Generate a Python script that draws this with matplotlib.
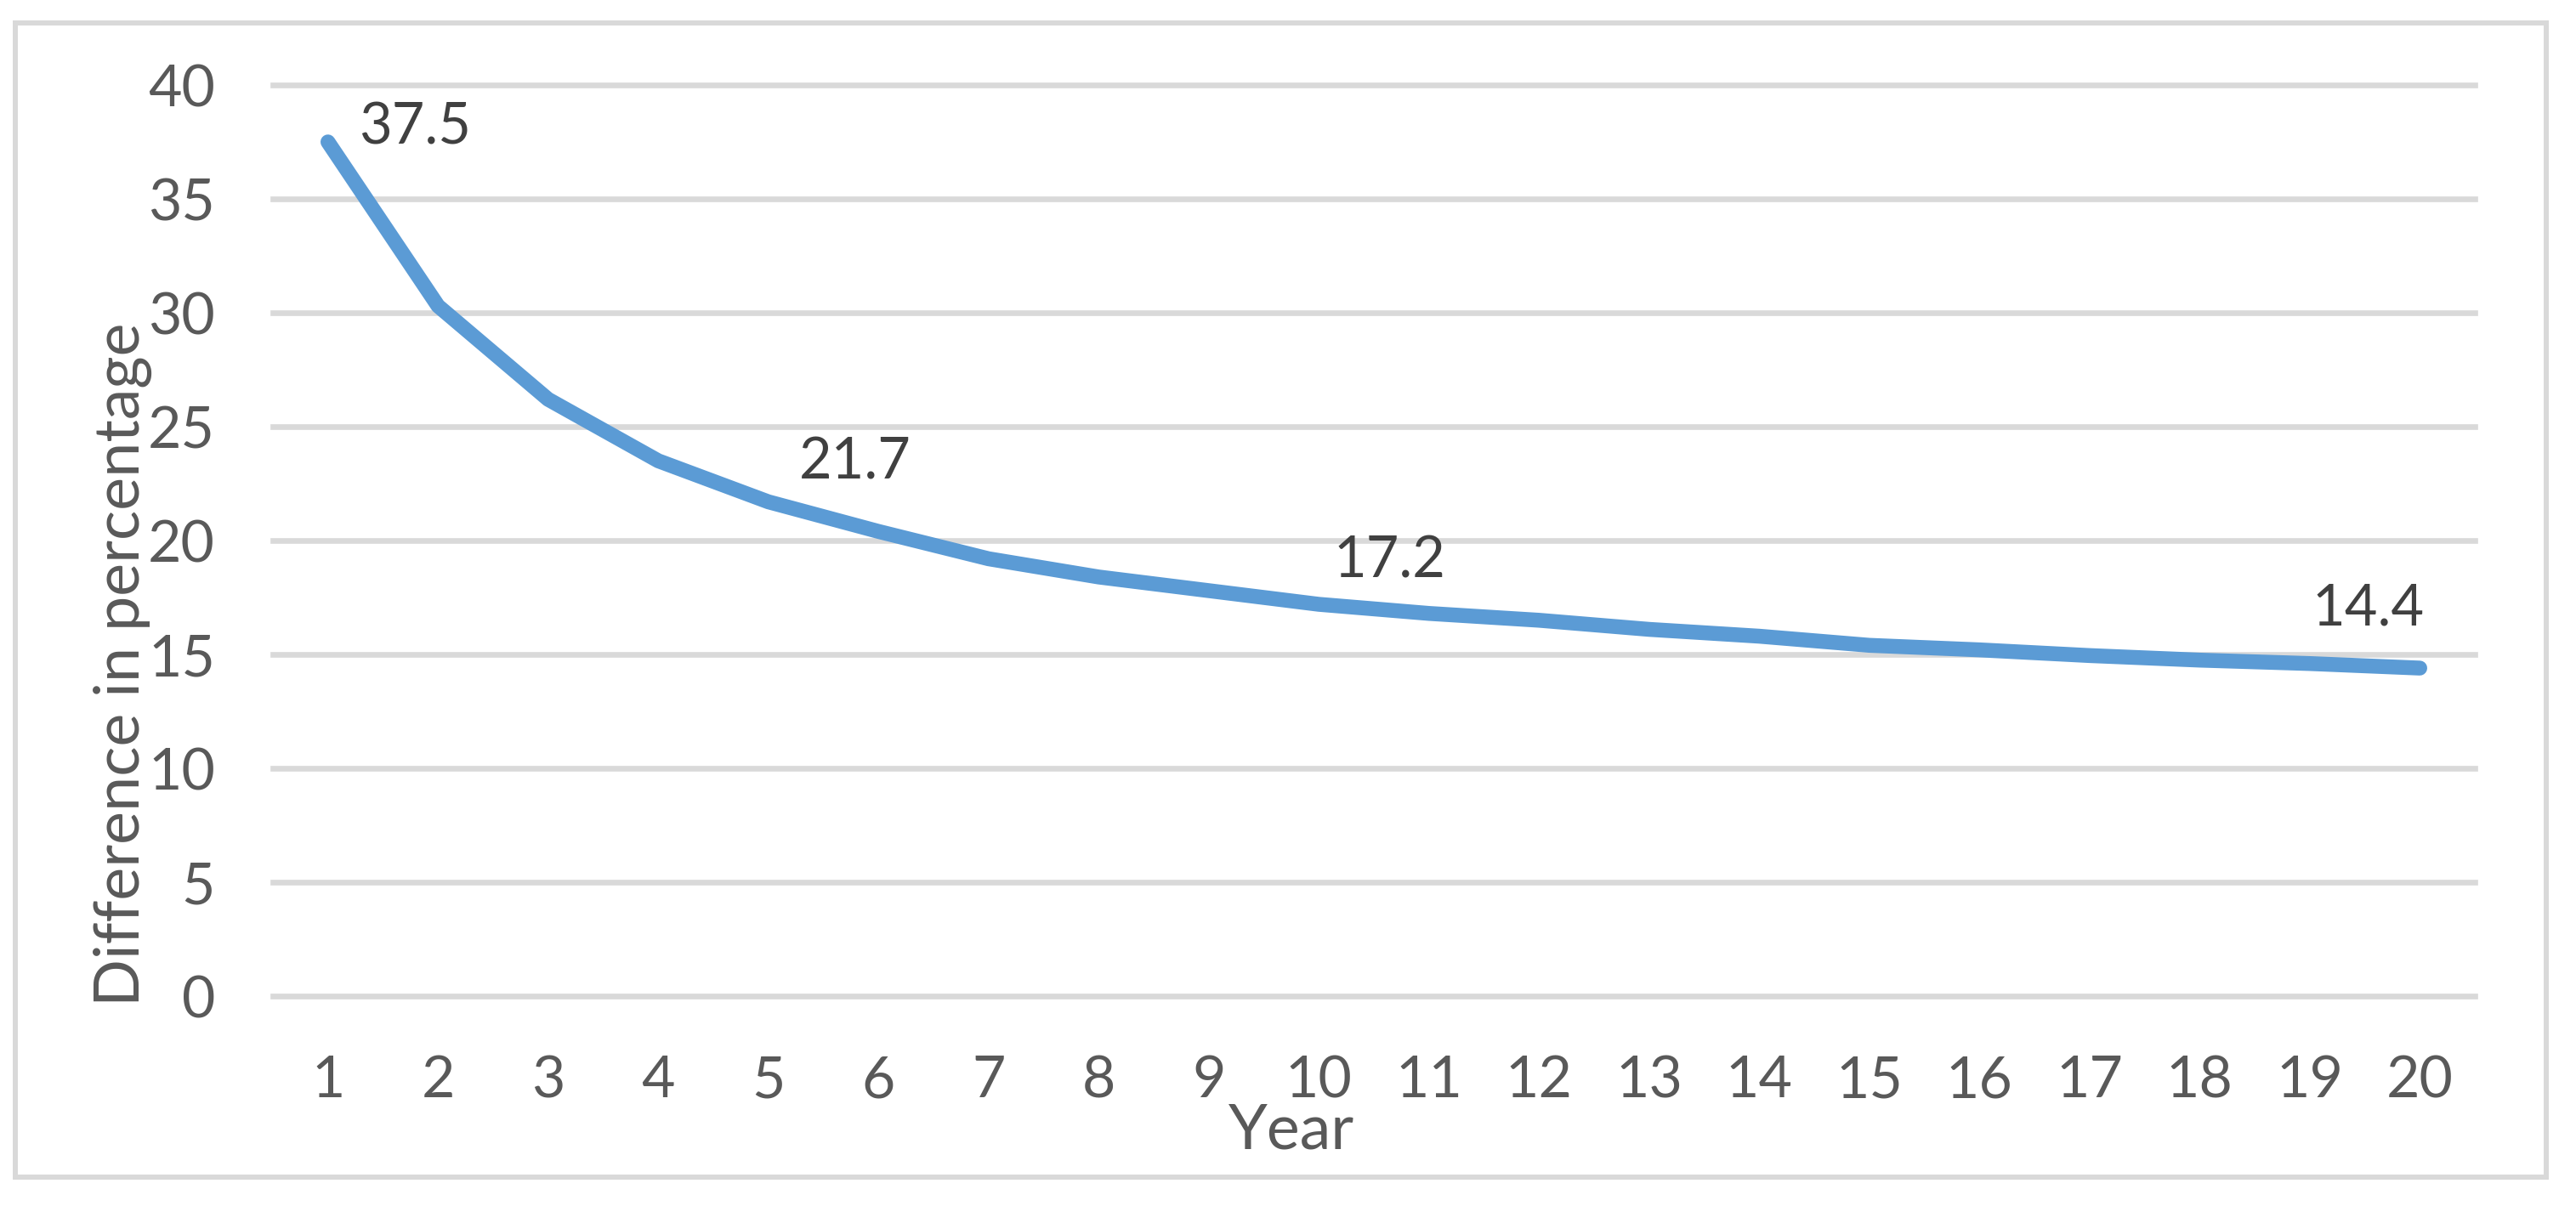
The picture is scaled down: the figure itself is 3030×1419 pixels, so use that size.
import matplotlib
matplotlib.use("Agg")
import matplotlib.pyplot as plt
from matplotlib.patches import Rectangle

plt.rcParams['font.family'] = ['Lato', 'DejaVu Sans']

# ---- data ----
years = list(range(1, 21))
difference = [37.5, 30.3, 26.2, 23.5, 21.7, 20.4, 19.2, 18.4, 17.8, 17.2,
              16.8, 16.5, 16.1, 15.8, 15.4, 15.2, 14.95, 14.75, 14.6, 14.4]
label_years = [1, 5, 10, 20]
y_ticks = [0, 5, 10, 15, 20, 25, 30, 35, 40]
x_label = "Year"
y_label = "Difference in percentage"

# ---- style ----
W, H, DPI = 3030, 1419, 100
line_color = "#5B9BD5"
grid_color = "#D9D9D9"
tick_color = "#595959"
label_color = "#404040"
label_offsets = {1: (102, -2), 5: (102, 27), 10: (83, 32), 20: (-61, 51)}

fig = plt.figure(figsize=(W / DPI, H / DPI), dpi=DPI)
left, right, top, bottom = 321, 2911, 100, 1172
ax = fig.add_axes([left / W, 1 - bottom / H, (right - left) / W, (bottom - top) / H])

ax.plot(years, difference, color=line_color, lw=12.6,
        solid_capstyle="round", solid_joinstyle="round", zorder=3)

ax.set_xlim(0.5, 20.5)
ax.set_ylim(0, 40)
ax.set_xticks(years)
ax.set_xticklabels([str(y) for y in years])
ax.set_yticks(y_ticks)
ax.set_yticklabels([str(v) for v in y_ticks])
ax.tick_params(axis="both", length=0, labelsize=49, colors=tick_color)
ax.tick_params(axis="x", pad=50)
ax.tick_params(axis="y", pad=49)
ax.grid(axis="y", color=grid_color, lw=4.8, zorder=1)
ax.grid(axis="x", visible=False)
for gl in ax.get_ygridlines():
    gl.set_clip_on(False)
for s in ax.spines.values():
    s.set_visible(False)
ax.set_axisbelow(True)

for yr in label_years:
    v = difference[yr - 1]
    dx, dy = label_offsets[yr]
    ax.annotate(f"{v:.1f}", xy=(yr, v), xytext=(dx, dy), textcoords="offset pixels",
                ha="center", va="baseline", fontsize=48, color=label_color, zorder=4)

fig.text(1519 / W, 1 - 1352 / H, x_label, ha="center", va="baseline",
         fontsize=53, color=tick_color)
fig.text(164 / W, 1 - 782 / H, y_label, rotation=90, rotation_mode="anchor",
         ha="center", va="baseline", fontsize=53, color=tick_color)

fig.add_artist(Rectangle((18 / W, 1 - 1385 / H), (2995 - 18) / W, (1385 - 27) / H,
                         transform=fig.transFigure, fill=False, ec=grid_color, lw=4.3))

fig.savefig("out.png", dpi=DPI, facecolor="white")
